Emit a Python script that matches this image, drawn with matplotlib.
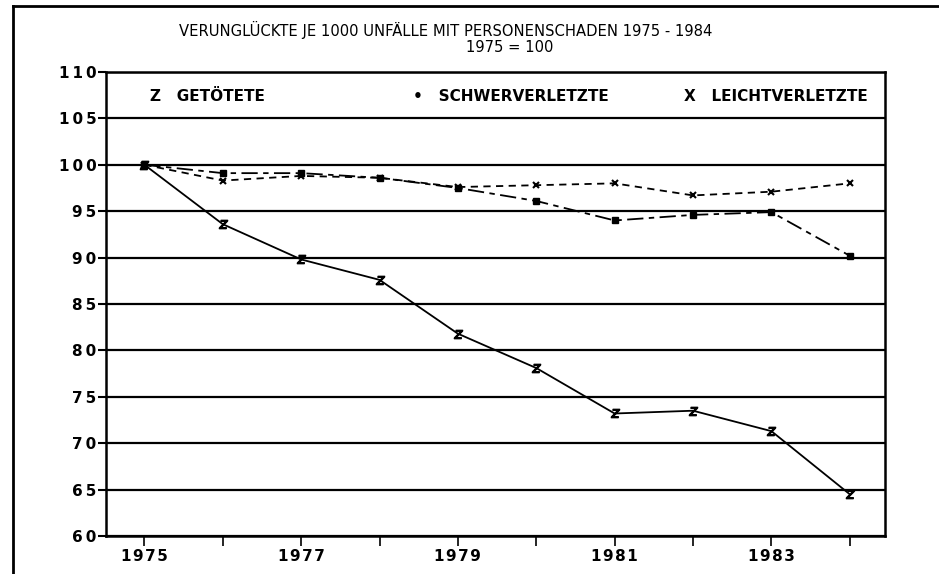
import matplotlib
matplotlib.use("Agg")
import matplotlib.pyplot as plt
from matplotlib.lines import Line2D

plt.rcParams['font.family'] = ['DejaVu Sans']

# Daten (1975 = 100)
jahre = [1975, 1976, 1977, 1978, 1979, 1980, 1981, 1982, 1983, 1984]
getoetete = [100, 93.6, 89.8, 87.6, 81.8, 78.1, 73.2, 73.5, 71.3, 64.5]
schwerverletzte = [100, 99.1, 99.1, 98.6, 97.5, 96.1, 94.0, 94.6, 94.9, 90.2]
leichtverletzte = [100, 98.3, 98.8, 98.6, 97.6, 97.8, 98.0, 96.7, 97.1, 98.0]

y_ticks = [60, 65, 70, 75, 80, 85, 90, 95, 100, 105, 110]
x_label_jahre = [1975, 1977, 1979, 1981, 1983]
legende = ['Z   GETÖTETE', '•   SCHWERVERLETZTE', 'X   LEICHTVERLETZTE']

titel = 'VERUNGLÜCKTE JE 1000 UNFÄLLE MIT PERSONENSCHADEN 1975 - 1984'
untertitel = '1975 = 100'

fig = plt.figure(figsize=(9.39, 5.74), dpi=100)
ax = fig.add_axes([0.1129, 0.0662, 0.8296, 0.8084])

# Rahmen um die ganze Seite (oben und links)
fig.add_artist(Line2D([0.0136, 1.0], [0.990, 0.990], color='black', lw=2,
                      transform=fig.transFigure))
fig.add_artist(Line2D([0.0136, 0.0136], [0.990, 0.0], color='black', lw=2,
                      transform=fig.transFigure))

# Gitterlinien
for v in y_ticks:
    ax.axhline(v, color='black', lw=1.6, zorder=1)

ax.plot(jahre, getoetete, color='black', lw=1.3, ls='-',
        marker='$Z$', markersize=6, zorder=3)
ax.plot(jahre, schwerverletzte, color='black', lw=1.3, dashes=(9, 3, 3, 3),
        marker='s', markersize=4, zorder=3)
ax.plot(jahre, leichtverletzte, color='black', lw=1.3, dashes=(4, 3),
        marker='x', markersize=5, markeredgewidth=1.5, zorder=3)

ax.set_xlim(1974.51, 1984.45)
ax.set_ylim(60, 110)

ax.set_yticks(y_ticks)
ax.set_yticklabels(['\u2009'.join(str(v)) for v in y_ticks],
                   fontsize=11, fontweight='bold')
ax.set_xticks(jahre)
ax.set_xticklabels(['\u200a'.join(str(j)) if j in x_label_jahre else '' for j in jahre],
                   fontsize=11, fontweight='bold')
ax.tick_params(axis='y', direction='out', length=6, width=1.5, pad=1)
ax.tick_params(axis='x', direction='out', length=7, width=1.2, pad=2)

for s in ax.spines.values():
    s.set_linewidth(1.8)

# Legende als Text im Diagramm
leg_x = [1975.07, 1978.43, 1981.88]
for x, txt in zip(leg_x, legende):
    ax.text(x, 107.4, txt, fontsize=11, fontweight='bold', va='center', ha='left')

fig.text(0.1906, 0.9477, titel, fontsize=10.6, ha='left', va='center')
fig.text(0.4963, 0.918, untertitel, fontsize=10.6, ha='left', va='center')

fig.savefig('out.png', dpi=100)
